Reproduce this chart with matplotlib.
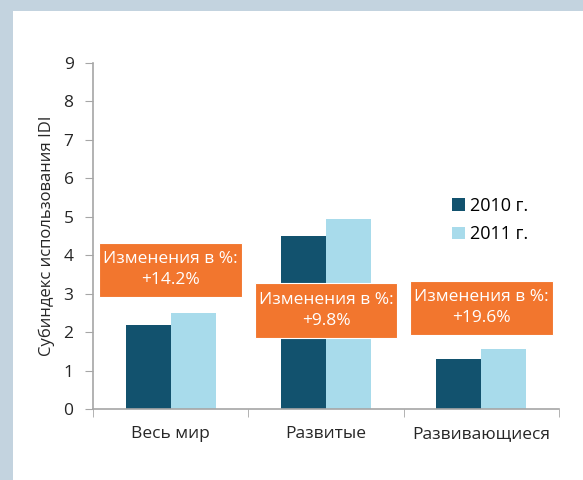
import matplotlib.pyplot as plt
from matplotlib.patches import Rectangle
import numpy as np

plt.rcParams['font.family'] = ['Open Sans', 'DejaVu Sans']

# data
categories = ['Весь мир', 'Развитые', 'Развивающиеся']
values_2010 = [2.18, 4.50, 1.30]
values_2011 = [2.49, 4.93, 1.55]
series_labels = ['2010 г.', '2011 г.']
change_labels = ['Изменения в %:\n+14.2%', 'Изменения в %:\n+9.8%', 'Изменения в %:\n+19.6%']
box_centers_y = [3.62, 2.56, 2.63]

dark = '#12526e'
light = '#a8dbeb'
orange = '#f2762e'
axis_gray = '#a6a6a6'

fig = plt.figure(figsize=(5.83, 4.8), dpi=100)
fig.patch.set_facecolor('#c3d3df')
# white panel
fig.add_artist(Rectangle((13 / 583, 0), 1, 1 - 11 / 480, transform=fig.transFigure,
                         facecolor='white', edgecolor='none', zorder=0))

ax = fig.add_axes([93 / 583, 71 / 480, 466 / 583, 346 / 480])
ax.set_facecolor('none')

x = np.arange(len(categories))
w = 0.29
ax.bar(x - w / 2, values_2010, w, color=dark, label=series_labels[0], zorder=2)
ax.bar(x + w / 2, values_2011, w, color=light, label=series_labels[1], zorder=2)

ax.set_xlim(-0.5, len(categories) - 0.5)
ax.set_ylim(0, 9)
ax.set_yticks(range(0, 10))
ax.set_xticks(x)
ax.set_xticklabels(categories)
ax.set_xticks(np.arange(-0.5, len(categories)), minor=True)
ax.tick_params(axis='x', which='major', length=0, pad=12, labelsize=12.5, colors='#262626')
ax.tick_params(axis='x', which='minor', length=6, color=axis_gray, direction='out')
ax.tick_params(axis='y', length=6, color=axis_gray, pad=8, labelsize=12.5, labelcolor='#262626')

for side in ['top', 'right']:
    ax.spines[side].set_visible(False)
for side in ['left', 'bottom']:
    ax.spines[side].set_color(axis_gray)
    ax.spines[side].set_linewidth(1.2)

ax.set_ylabel('Субиндекс использования IDI', fontsize=12, color='#262626', labelpad=6)

# change boxes
box_w, box_h = 0.92, 1.42
for i, (lbl, cy) in enumerate(zip(change_labels, box_centers_y)):
    ax.add_patch(Rectangle((i - box_w / 2, cy - box_h / 2), box_w, box_h,
                           facecolor=orange, edgecolor='white', linewidth=0.8, zorder=4))
    ax.text(i, cy, lbl, ha='center', va='center', color='white', fontsize=12.5,
            linespacing=1.4, zorder=5)

ax.legend(loc='upper left', bbox_to_anchor=(0.755, 0.635), frameon=False,
          fontsize=13, handlelength=0.7, handleheight=0.7, handletextpad=0.3,
          labelspacing=0.6, borderaxespad=0)

fig.savefig('out.png', dpi=100)
